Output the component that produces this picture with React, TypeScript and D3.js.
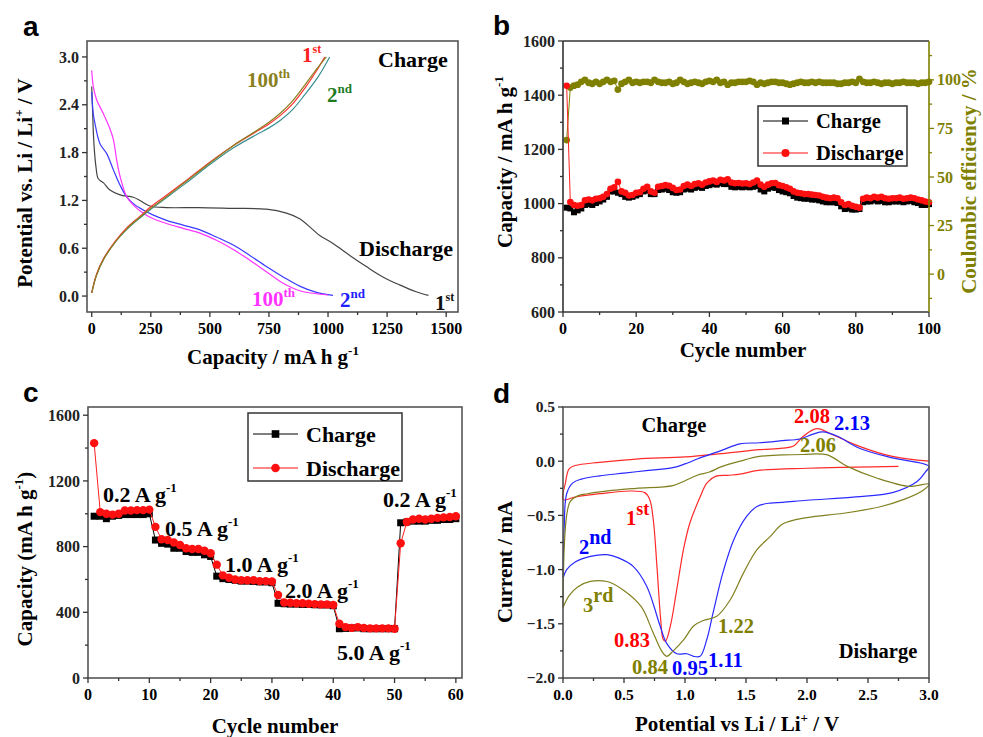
import React from 'react';
import * as d3 from 'd3';

const SERIF = '"Liberation Serif", "Times New Roman", serif';
const SANS = '"Liberation Sans", Arial, sans-serif';
const OLIVE = '#808000';

// ---- panel a: galvanostatic profiles [capacity mA h g-1, potential V]
const dis1st = [[0, 2.63], [4, 2.3], [7, 2.04], [12, 1.8], [18, 1.62], [26, 1.48], [35, 1.45], [50, 1.42], [77, 1.33], [120, 1.27], [176, 1.24], [204, 1.2], [246, 1.13], [317, 1.11], [450, 1.11], [599, 1.1], [739, 1.09], [824, 1.04], [880, 0.97], [937, 0.83], [965, 0.76], [1021, 0.66], [1092, 0.51], [1162, 0.37], [1232, 0.24], [1303, 0.14], [1373, 0.054], [1425, 0.008]];
const dis2nd = [[0, 2.56], [6, 2.3], [14, 2.16], [35, 1.91], [63, 1.79], [92, 1.58], [120, 1.39], [148, 1.245], [176, 1.16], [218, 1.08], [261, 1.015], [317, 0.95], [387, 0.89], [458, 0.83], [528, 0.74], [599, 0.64], [669, 0.51], [739, 0.37], [810, 0.24], [880, 0.125], [951, 0.046], [1021, 0.008]];
const dis100th = [[0, 2.83], [7, 2.62], [21, 2.46], [49, 2.29], [77, 2.1], [92, 1.96], [106, 1.7], [120, 1.5], [148, 1.245], [176, 1.14], [218, 1.04], [261, 0.97], [317, 0.91], [387, 0.85], [458, 0.79], [528, 0.7], [599, 0.585], [669, 0.45], [739, 0.305], [810, 0.16], [880, 0.067], [1000, 0.013]];
const chg1st = [[0, 0.04], [20, 0.27], [50, 0.47], [100, 0.69], [150, 0.86], [200, 0.99], [250, 1.12], [300, 1.23], [400, 1.45], [500, 1.68], [600, 1.89], [700, 2.07], [750, 2.16], [800, 2.27], [850, 2.41], [900, 2.6], [950, 2.82], [986, 3.0]];
const chg2nd = [[0, 0.04], [20, 0.26], [50, 0.46], [100, 0.68], [150, 0.84], [200, 0.97], [250, 1.09], [300, 1.2], [400, 1.42], [500, 1.65], [600, 1.86], [700, 2.03], [750, 2.11], [800, 2.21], [850, 2.34], [900, 2.52], [960, 2.76], [1007, 3.0]];
const chg100th = [[0, 0.04], [20, 0.26], [50, 0.46], [100, 0.68], [150, 0.85], [200, 0.98], [250, 1.1], [300, 1.21], [400, 1.44], [500, 1.67], [600, 1.89], [700, 2.08], [750, 2.18], [800, 2.3], [850, 2.45], [900, 2.64], [950, 2.84], [993, 3.0]];

// ---- panel b: cycling, 100 cycles
const cycB = d3.range(1, 101);
const chargeB = [
  985, 982, 968, 975, 982, 995, 998, 995, 1002, 1008,
  1015, 1025, 1045, 1045, 1040, 1035, 1025, 1022, 1025, 1030,
  1035, 1045, 1048, 1035, 1035, 1050, 1052, 1055, 1050, 1042,
  1040, 1042, 1052, 1055, 1052, 1058, 1062, 1058, 1065, 1068,
  1072, 1070, 1075, 1072, 1072, 1062, 1060, 1062, 1060, 1062,
  1060, 1062, 1065, 1052, 1045, 1055, 1060, 1058, 1050, 1045,
  1042, 1038, 1028, 1022, 1020, 1018, 1018, 1015, 1015, 1012,
  1008, 1005, 1005, 1005, 1002, 990, 980, 982, 978, 978,
  980, 1005, 1008, 1008, 1012, 1008, 1010, 1005, 1005, 1008,
  1008, 1008, 1005, 1008, 1010, 1005, 1002, 995, 995, 998,
];
const dischargeB = [
  1435, 1006, 995, 992, 995, 1012, 1015, 1012, 1018, 1020,
  1025, 1035, 1055, 1060, 1080, 1045, 1040, 1030, 1032, 1040,
  1042, 1055, 1062, 1045, 1040, 1062, 1065, 1068, 1066, 1058,
  1050, 1052, 1065, 1070, 1065, 1072, 1075, 1070, 1078, 1082,
  1085, 1080, 1088, 1085, 1090, 1078, 1075, 1076, 1074, 1075,
  1072, 1078, 1085, 1070, 1062, 1070, 1075, 1076, 1068, 1065,
  1060, 1055, 1045, 1040, 1038, 1035, 1035, 1033, 1032, 1030,
  1025, 1022, 1020, 1022, 1020, 1005, 995, 998, 992, 988,
  985, 1018, 1022, 1020, 1025, 1022, 1025, 1020, 1018, 1020,
  1020, 1022, 1018, 1020, 1022, 1020, 1015, 1012, 1008, 1005,
];
const effB = [
  69, 96, 97, 97.5, 99, 100, 98.5, 98, 99, 98,
  99, 100, 99, 99.5, 95, 98, 99, 100, 98.5, 99,
  98.5, 99, 99, 98.5, 100, 99, 98.5, 98.5, 99, 98,
  98.5, 100, 99, 98, 98.5, 99, 98.5, 98, 99, 99.5,
  99, 100, 98.5, 99, 97.5, 98.5, 98.5, 99, 99, 99,
  99.5, 99, 97.5, 98.5, 98, 98.5, 99, 99, 98.5, 98.5,
  98, 97.5, 98, 98.5, 99, 98.5, 98.5, 99, 98.5, 99,
  98.5, 98.5, 98.5, 98.5, 98, 98, 98.5, 98.5, 99, 98.5,
  100.5, 99, 98.5, 98.5, 99, 98.5, 98, 98.5, 98.5, 98,
  98.5, 98.5, 99, 98.5, 98.5, 98.5, 98, 98.5, 98.5, 99,
];

// ---- panel c: rate capability, 60 cycles
const cycC = d3.range(1, 61);
const chargeC = [
  985, 985, 970, 985, 990, 995, 995, 995, 995, 1000,
  840, 820, 815, 790, 790, 770, 765, 765, 750, 740,
  620, 605, 600, 595, 590, 590, 588, 585, 585, 580,
  455, 452, 450, 450, 448, 448, 446, 445, 445, 440,
  300, 302, 305, 305, 300, 300, 300, 300, 300, 300,
  945, 950, 955, 955, 955, 960, 960, 965, 965, 970,
];
const dischargeC = [
  1430, 1010, 1000, 995, 1000, 1020, 1020, 1022, 1022, 1025,
  920, 845, 840, 825, 810, 790, 785, 785, 775, 760,
  690, 625, 610, 600, 595, 595, 595, 590, 590, 588,
  505, 460, 458, 455, 455, 452, 450, 448, 448, 445,
  330, 310, 305, 310, 305, 302, 302, 302, 302, 300,
  820, 950, 965, 970, 965, 970, 975, 978, 980, 985,
];
const rateLabels = ['0.2', '0.5', '1.0', '2.0', '5.0', '0.2'];

// ---- panel d: cyclic voltammetry [potential V, current mA]
const cv1st = [[2.75, -0.047], [2.4, -0.055], [2.0, -0.065], [1.6, -0.085], [1.45, -0.12], [1.35, -0.13], [1.25, -0.14], [1.18, -0.2], [1.12, -0.34], [1.04, -0.57], [0.99, -0.8], [0.93, -1.2], [0.88, -1.52], [0.84, -1.66], [0.82, -1.64], [0.8, -1.45], [0.77, -0.97], [0.74, -0.54], [0.71, -0.35], [0.67, -0.29], [0.55, -0.275], [0.3, -0.3], [0.1, -0.33], [0.0, -0.355], [0.02, -0.2], [0.05, -0.07], [0.1, -0.04], [0.3, -0.01], [0.6, 0.02], [1.0, 0.04], [1.3, 0.07], [1.61, 0.106], [1.8, 0.12], [1.89, 0.14], [1.97, 0.23], [2.08, 0.3], [2.21, 0.244], [2.43, 0.137], [2.7, 0.044], [3.0, 0.0]];
const cv2nd = [[0, -1.08], [0.01, -0.6], [0.03, -0.3], [0.08, -0.2], [0.15, -0.165], [0.3, -0.135], [0.5, -0.11], [0.7, -0.085], [0.9, -0.06], [1.0, -0.025], [1.1, 0.02], [1.3, 0.1], [1.45, 0.16], [1.61, 0.17], [1.8, 0.19], [1.94, 0.205], [2.05, 0.25], [2.13, 0.27], [2.25, 0.23], [2.43, 0.12], [2.7, 0.03], [3.0, -0.048], [2.97, -0.1], [2.9, -0.19], [2.7, -0.29], [2.4, -0.33], [2.0, -0.36], [1.8, -0.38], [1.7, -0.386], [1.59, -0.417], [1.505, -0.51], [1.4, -0.724], [1.31, -1.03], [1.23, -1.4], [1.178, -1.647], [1.124, -1.8], [1.07, -1.8], [1.015, -1.776], [0.933, -1.776], [0.85, -1.68], [0.796, -1.52], [0.687, -1.155], [0.575, -0.97], [0.45, -0.89], [0.36, -0.862], [0.224, -0.878], [0.1, -0.93], [0.03, -1.0], [0, -1.08]];
const cv3rd = [[0, -1.35], [0.01, -0.8], [0.03, -0.5], [0.06, -0.37], [0.12, -0.32], [0.2, -0.3], [0.4, -0.27], [0.6, -0.25], [0.9, -0.225], [1.0, -0.18], [1.1, -0.13], [1.2, -0.1], [1.3, -0.05], [1.45, 0.0], [1.61, 0.044], [1.8, 0.058], [1.97, 0.062], [2.16, 0.06], [2.33, -0.048], [2.57, -0.155], [2.84, -0.233], [3.0, -0.21], [2.95, -0.27], [2.8, -0.35], [2.6, -0.42], [2.3, -0.48], [2.0, -0.52], [1.8, -0.58], [1.7, -0.694], [1.59, -0.816], [1.48, -1.03], [1.37, -1.28], [1.26, -1.43], [1.15, -1.47], [1.07, -1.52], [0.99, -1.647], [0.9, -1.754], [0.85, -1.8], [0.81, -1.754], [0.74, -1.585], [0.64, -1.34], [0.49, -1.185], [0.36, -1.11], [0.224, -1.109], [0.12, -1.16], [0.05, -1.24], [0, -1.35]];

type Sc = d3.ScaleLinear<number, number>;

const Frame = ({ x, y, stroke = '#333' }: { x: Sc; y: Sc; stroke?: string }) => {
  const [x0, x1] = x.range();
  const [y0, y1] = y.range();
  return <rect x={x0} y={y1} width={x1 - x0} height={y0 - y1} fill="none" stroke={stroke} strokeWidth={1.6} />;
};

const XAxis = ({ x, y0, major, minor, fmt, size = 16 }: any) => (
  <g fontFamily={SERIF} fontWeight="bold" fontSize={size}>
    {minor.map((t: number) => <line key={'m' + t} x1={x(t)} x2={x(t)} y1={y0} y2={y0 + 3} stroke="#333" strokeWidth={1.3} />)}
    {major.map((t: number) => (
      <g key={t}>
        <line x1={x(t)} x2={x(t)} y1={y0} y2={y0 + 5} stroke="#333" strokeWidth={1.3} />
        <text x={x(t)} y={y0 + 22} textAnchor="middle">{fmt(t)}</text>
      </g>
    ))}
  </g>
);

const YAxis = ({ y, x0, major, minor, fmt, side = 'left', color = '#222', size = 16 }: any) => {
  const s = side === 'left' ? -1 : 1;
  const tc = color === '#222' ? '#333' : color;
  return (
    <g fontFamily={SERIF} fontWeight="bold" fontSize={size} fill={color}>
      {minor.map((t: number) => <line key={'m' + t} x1={x0} x2={x0 + 3 * s} y1={y(t)} y2={y(t)} stroke={tc} strokeWidth={1.3} />)}
      {major.map((t: number) => (
        <g key={t}>
          <line x1={x0} x2={x0 + 5 * s} y1={y(t)} y2={y(t)} stroke={tc} strokeWidth={1.3} />
          <text x={x0 + 8 * s} y={y(t)} dy="0.35em" textAnchor={side === 'left' ? 'end' : 'start'}>{fmt(t)}</text>
        </g>
      ))}
    </g>
  );
};

const Sup = ({ x, y, base, sup, color, size, supSize, rise = 9, anchor = 'start' }: any) => (
  <text x={x} y={y} fill={color} fontFamily={SERIF} fontWeight="bold" fontSize={size} textAnchor={anchor}>
    {base}
    <tspan dy={-rise} fontSize={supSize}>{sup}</tspan>
  </text>
);

const lineOf = (x: Sc, y: Sc) =>
  d3.line<number[]>().x((d) => x(d[0])).y((d) => y(d[1])).curve(d3.curveCatmullRom.alpha(0.5));

const range = (a: number, b: number, s: number) => d3.range(a, b + s / 2, s);

function PanelA() {
  const x = d3.scaleLinear().domain([-20, 1550]).range([87, 458]);
  const y = d3.scaleLinear().domain([-0.2, 3.2]).range([312, 41]);
  const ln = lineOf(x, y);
  const curves: [number[][], string][] = [
    [dis1st, '#444'], [dis2nd, '#3a3aff'], [dis100th, '#ff33ff'],
    [chg2nd, '#3a9090'], [chg1st, '#ff3333'], [chg100th, '#8a8020'],
  ];
  return (
    <g>
      <text x={23} y={36} fontFamily={SANS} fontWeight="bold" fontSize={28}>a</text>
      {curves.map(([d, c], i) => <path key={i} d={ln(d) || ''} fill="none" stroke={c} strokeWidth={1.2} />)}
      <Frame x={x} y={y} stroke="#555" />
      <XAxis x={x} y0={312} major={range(0, 1500, 250)} minor={range(125, 1375, 250)} fmt={(t: number) => String(t)} />
      <YAxis y={y} x0={87} major={range(0, 3, 0.6)} minor={range(0.3, 2.7, 0.6)} fmt={d3.format('.1f')} />
      <text x={378} y={67} fontFamily={SERIF} fontWeight="bold" fontSize={22}>Charge</text>
      <text x={359} y={256} fontFamily={SERIF} fontWeight="bold" fontSize={22}>Discharge</text>
      <Sup x={302} y={62} base="1" sup="st" color="#ff2020" size={21} supSize={12} />
      <Sup x={247} y={87} base="100" sup="th" color="#8a8020" size={21} supSize={13} />
      <Sup x={327} y={102} base="2" sup="nd" color="#1e7b1e" size={21} supSize={13} />
      <Sup x={252} y={306} base="100" sup="th" color="#ff33ff" size={21} supSize={13} />
      <Sup x={340} y={307} base="2" sup="nd" color="#2020ff" size={21} supSize={13} />
      <Sup x={435} y={310} base="1" sup="st" color="#111" size={21} supSize={12} />
      <text x={273} y={364} textAnchor="middle" fontFamily={SERIF} fontWeight="bold" fontSize={21}>
        Capacity / mA h g<tspan dy={-9} fontSize={13}>-1</tspan>
      </text>
      <text transform="translate(32,183) rotate(-90)" textAnchor="middle" fontFamily={SERIF} fontWeight="bold" fontSize={21}>
        Potential vs. Li / Li<tspan dy={-9} fontSize={13}>+</tspan><tspan dy={9}> / V</tspan>
      </text>
    </g>
  );
}

function Legend({ x, y, w, h, rows, size, ms }: any) {
  return (
    <g>
      <rect x={x} y={y} width={w} height={h} fill="#fff" stroke="#333" strokeWidth={1.5} />
      {rows.map((r: any, i: number) => (
        <g key={i}>
          <line x1={x + 5} x2={x + 50} y1={r.y} y2={r.y} stroke={r.color} strokeWidth={1.2} />
          {r.shape === 'sq'
            ? <rect x={x + 27.5 - ms} y={r.y - ms} width={ms * 2} height={ms * 2} fill={r.color} />
            : <circle cx={x + 27.5} cy={r.y} r={ms + 0.5} fill={r.color} />}
          <text x={x + 58} y={r.y} dy="0.35em" fontFamily={SERIF} fontWeight="bold" fontSize={size}>{r.label}</text>
        </g>
      ))}
    </g>
  );
}

function PanelB() {
  const x = d3.scaleLinear().domain([0, 100]).range([563, 929]);
  const y = d3.scaleLinear().domain([600, 1600]).range([312, 41]);
  const y2 = d3.scaleLinear().domain([-19.5, 120]).range([312, 41]);
  const ln = d3.line<number>().x((_, i) => x(cycB[i]));
  return (
    <g>
      <text x={493} y={35} fontFamily={SANS} fontWeight="bold" fontSize={28}>b</text>
      <path d={ln.y((d) => y2(d))(effB) || ''} fill="none" stroke={OLIVE} strokeWidth={1} />
      {effB.map((d, i) => <circle key={'e' + i} cx={x(cycB[i])} cy={y2(d)} r={3.4} fill={OLIVE} />)}
      <path d={ln.y((d) => y(d))(chargeB) || ''} fill="none" stroke="#000" strokeWidth={1} />
      {chargeB.map((d, i) => <rect key={'c' + i} x={x(cycB[i]) - 3} y={y(d) - 3} width={6} height={6} fill="#000" />)}
      <path d={ln.y((d) => y(d))(dischargeB) || ''} fill="none" stroke="#ff2020" strokeWidth={1} />
      {dischargeB.map((d, i) => <circle key={'d' + i} cx={x(cycB[i])} cy={y(d)} r={3.3} fill="#ff1010" />)}
      <line x1={563} x2={929} y1={41} y2={41} stroke="#333" strokeWidth={1.6} />
      <line x1={563} x2={929} y1={312} y2={312} stroke="#333" strokeWidth={1.6} />
      <line x1={563} x2={563} y1={41} y2={312} stroke="#333" strokeWidth={1.6} />
      <line x1={929} x2={929} y1={41} y2={312} stroke={OLIVE} strokeWidth={1.6} />
      <XAxis x={x} y0={312} major={range(0, 100, 20)} minor={range(10, 90, 20)} fmt={(t: number) => String(t)} />
      <YAxis y={y} x0={563} major={range(600, 1600, 200)} minor={range(700, 1500, 200)} fmt={(t: number) => String(t)} />
      <YAxis y={y2} x0={929} side="right" color={OLIVE} major={range(0, 100, 25)} minor={range(-12.5, 112.5, 25)} fmt={(t: number) => String(t)} />
      <Legend x={758} y={106} w={149} h={60} size={20.5} ms={3.5}
        rows={[{ y: 121, color: '#000', shape: 'sq', label: 'Charge' }, { y: 153, color: '#ff1010', shape: 'c', label: 'Discharge' }]} />
      <text x={743} y={357} textAnchor="middle" fontFamily={SERIF} fontWeight="bold" fontSize={21}>Cycle number</text>
      <text transform="translate(512,162) rotate(-90)" textAnchor="middle" fontFamily={SERIF} fontWeight="bold" fontSize={21}>
        Capacity / mA h g<tspan dy={-9} fontSize={13}>-1</tspan>
      </text>
      <text transform="translate(976,181) rotate(-90)" textAnchor="middle" fill={OLIVE} fontFamily={SERIF} fontWeight="bold" fontSize={21}>
        Coulombic efficiency / %
      </text>
    </g>
  );
}

function PanelC() {
  const x = d3.scaleLinear().domain([0, 61]).range([88, 462]);
  const y = d3.scaleLinear().domain([0, 1650]).range([678, 407]);
  const ln = d3.line<number>().x((_, i) => x(cycC[i]));
  const labelPos = [[103, 502], [165, 536], [225, 572], [285, 598], [337, 660], [383, 507]];
  return (
    <g>
      <text x={23} y={402} fontFamily={SANS} fontWeight="bold" fontSize={28}>c</text>
      <path d={ln.y((d) => y(d))(chargeC) || ''} fill="none" stroke="#000" strokeWidth={1} />
      {chargeC.map((d, i) => <rect key={'c' + i} x={x(cycC[i]) - 3.5} y={y(d) - 3.5} width={7} height={7} fill="#000" />)}
      <path d={ln.y((d) => y(d))(dischargeC) || ''} fill="none" stroke="#ff2020" strokeWidth={1} />
      {dischargeC.map((d, i) => <circle key={'d' + i} cx={x(cycC[i])} cy={y(d)} r={4.2} fill="#ff1010" />)}
      <Frame x={x} y={y} stroke="#555" />
      <XAxis x={x} y0={678} major={range(0, 60, 10)} minor={range(5, 55, 10)} fmt={(t: number) => String(t)} />
      <YAxis y={y} x0={88} major={range(0, 1600, 400)} minor={range(200, 1400, 400)} fmt={(t: number) => String(t)} />
      <Legend x={248} y={413} w={154} h={68} size={22} ms={3.8}
        rows={[{ y: 434, color: '#000', shape: 'sq', label: 'Charge' }, { y: 468, color: '#ff1010', shape: 'c', label: 'Discharge' }]} />
      {rateLabels.map((r, i) => (
        <text key={i} x={labelPos[i][0]} y={labelPos[i][1]} fontFamily={SERIF} fontWeight="bold" fontSize={22}>
          {r} A g<tspan dy={-10} fontSize={13}>-1</tspan>
        </text>
      ))}
      <text x={275} y={733} textAnchor="middle" fontFamily={SERIF} fontWeight="bold" fontSize={21}>Cycle number</text>
      <text transform="translate(32,559) rotate(-90)" textAnchor="middle" fontFamily={SERIF} fontWeight="bold" fontSize={21}>
        Capacity (mA h g<tspan dy={-9} fontSize={13}>-1</tspan><tspan dy={9}>)</tspan>
      </text>
    </g>
  );
}

function PanelD() {
  const x = d3.scaleLinear().domain([0, 3]).range([563, 929]);
  const y = d3.scaleLinear().domain([-2, 0.5]).range([678, 407]);
  const ln = lineOf(x, y);
  const T = (props: any) => <text fontFamily={SERIF} fontWeight="bold" fontSize={20.5} {...props} />;
  return (
    <g>
      <text x={493} y={403} fontFamily={SANS} fontWeight="bold" fontSize={28}>d</text>
      <path d={ln(cv1st) || ''} fill="none" stroke="#ff2a2a" strokeWidth={1.2} />
      <path d={ln(cv2nd) || ''} fill="none" stroke="#2a2aff" strokeWidth={1.2} />
      <path d={ln(cv3rd) || ''} fill="none" stroke="#808020" strokeWidth={1.2} />
      <Frame x={x} y={y} stroke="#555" />
      <XAxis x={x} y0={678} size={15.5} major={range(0, 3, 0.5)} minor={range(0.25, 2.75, 0.5)} fmt={d3.format('.1f')} />
      <YAxis y={y} x0={563} size={15.5} major={range(-2, 0.5, 0.5)} minor={range(-1.75, 0.25, 0.5)} fmt={d3.format('.1f')} />
      <T x={674} y={432} textAnchor="middle">Charge</T>
      <T x={878} y={658} textAnchor="middle">Disharge</T>
      <T x={794} y={423} fill="#ff0000">2.08</T>
      <T x={834} y={430} fill="#0000ff">2.13</T>
      <T x={800} y={452} fill={OLIVE}>2.06</T>
      <T x={614} y={647} fill="#ff0000">0.83</T>
      <T x={718} y={633} fill={OLIVE}>1.22</T>
      <T x={632} y={674} fill={OLIVE}>0.84</T>
      <T x={672} y={675} fill="#0000ff">0.95</T>
      <T x={708} y={667} fill="#0000ff">1.11</T>
      <Sup x={626} y={525} base="1" sup="st" color="#ff0000" size={20.5} supSize={18} rise={10} />
      <Sup x={579} y={554} base="2" sup="nd" color="#0000ff" size={20.5} supSize={20} rise={10} />
      <Sup x={583} y={612} base="3" sup="rd" color={OLIVE} size={20.5} supSize={20} rise={10} />
      <text x={737} y={731} textAnchor="middle" fontFamily={SERIF} fontWeight="bold" fontSize={21}>
        Potential vs Li / Li<tspan dy={-9} fontSize={13}>+</tspan><tspan dy={9}> / V</tspan>
      </text>
      <text transform="translate(512,562) rotate(-90)" textAnchor="middle" fontFamily={SERIF} fontWeight="bold" fontSize={21}>
        Current / mA
      </text>
    </g>
  );
}

export default function App() {
  return (
    <svg width={983} height={737} viewBox="0 0 983 737"
      style={{ position: 'absolute', left: 0, top: 0, background: '#fff' }}>
      <rect width={983} height={737} fill="#fff" />
      <PanelA />
      <PanelB />
      <PanelC />
      <PanelD />
    </svg>
  );
}
